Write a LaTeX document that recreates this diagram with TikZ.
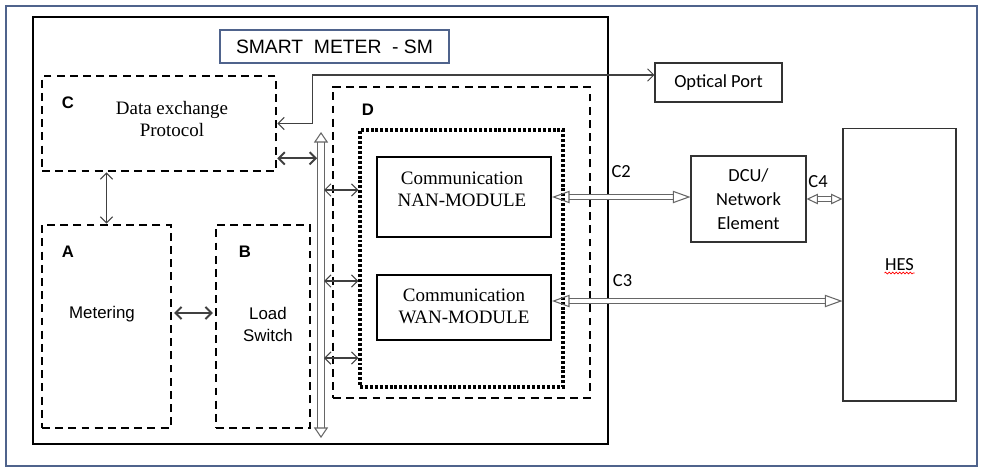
\documentclass[tikz,border=0pt]{standalone}
\usepackage{fontspec}
\setmainfont{Liberation Serif}
\setsansfont{Liberation Sans}
\newfontfamily\carlito{Carlito}
\usetikzlibrary{arrows.meta,positioning,decorations.pathmorphing}
\definecolor{framecol}{RGB}{79,99,140}

\begin{document}
\begin{tikzpicture}[
        x=0.02cm, y=-0.02cm,
        % box styles
        base/.style={rectangle, draw=black, inner sep=0pt, align=center},
        meterbox/.style={base, line width=1.2pt},
        titlebox/.style={base, draw=framecol, line width=0.6pt, font=\sffamily\fontsize{11}{13}\selectfont},
        dashbox/.style={base, line width=1.5pt, dash pattern=on 4.5pt off 3pt},
        dotbox/.style={base, line width=1.9pt, dash pattern=on 1.7pt off 1.1pt},
        modbox/.style={base, line width=1.1pt},
        thinbox/.style={base, draw=black!80, line width=0.6pt, font=\carlito\fontsize{10.5}{13.6}\selectfont},
        % text styles
        tag/.style={font=\sffamily\bfseries\fontsize{9.5}{11}\selectfont, inner sep=0pt},
        sanstxt/.style={font=\sffamily\fontsize{9.6}{12}\selectfont, align=center, inner sep=0pt},
        seriftxt/.style={font=\fontsize{10.8}{12.6}\selectfont, align=center, inner sep=0pt},
        lbl/.style={font=\carlito\fontsize{10.5}{12}\selectfont, inner sep=0pt},
        % connector styles
        thinarrow/.style={{Straight Barb[length=3.5pt,width=7pt]}-{Straight Barb[length=3.5pt,width=7pt]}, draw=black!75, line width=0.6pt},
        thickarrow/.style={thinarrow, line width=1.1pt},
        hollow/.style={{Triangle[open, length=10pt, width=7pt, line width=0.6pt]}-{Triangle[open, length=10pt, width=7pt, line width=0.6pt]}, draw=black!60, double=white, double distance=2pt, line width=0.6pt},
        shorthollow/.style={hollow, {Triangle[open, length=6.5pt, width=6pt, line width=0.6pt]}-{Triangle[open, length=6.5pt, width=6pt, line width=0.6pt]}},
        bus/.style={{Triangle[open, length=6pt, width=8pt, line width=0.6pt]}-{Triangle[open, length=6pt, width=8pt, line width=0.6pt]}, draw=black!60, double=white, double distance=3.4pt, line width=0.6pt}
    ]

    \useasboundingbox (0,0) rectangle (983,470);

    % outer frame
    \draw[framecol, line width=1.2pt] (6,6) rectangle (977,466);

    % smart meter and its blocks
    \node[meterbox, minimum width=11.5cm, minimum height=8.54cm] (meter) at (320.5,230.5) {};
    \node[titlebox, minimum width=4.58cm, minimum height=0.66cm] (title) at (334.5,46.5) {SMART\hspace{0.55em}METER\hspace{0.55em}- SM};

    \node[dashbox, minimum width=4.68cm, minimum height=1.9cm] (cbox) at (159,123.5) {};
    \node[dashbox, minimum width=2.58cm, minimum height=4.06cm] (abox) at (106.5,326.5) {};
    \node[dashbox, minimum width=1.88cm, minimum height=4.06cm] (bbox) at (263,326.5) {};
    \node[dashbox, minimum width=5.14cm, minimum height=6.22cm] (dbox) at (461.5,242.5) {};
    \node[dotbox, minimum width=4.06cm, minimum height=5.14cm] (comms) at (461.5,258.5) {};
    \node[modbox, minimum width=3.48cm, minimum height=1.6cm] (nan) at (464,197) {};
    \node[modbox, minimum width=3.48cm, minimum height=1.3cm] (wan) at (464,307.5) {};

    % block letters and texts
    \node[tag] (ctag) at (68,103) {C};
    \node[tag] (atag) at (68,252) {A};
    \node[tag] (btag) at (245,252) {B};
    \node[tag] (dtag) at (368,110) {D};
    \node[seriftxt] (ctxt) at (172,119) {Data exchange\\Protocol};
    \node[sanstxt] (atxt) at (102,314) {Metering};
    \node[sanstxt] (btxt) at (268,324.5) {Load\\Switch};
    \node[seriftxt] (nantxt) at (462,189) {Communication\\NAN-MODULE};
    \node[seriftxt] (wantxt) at (464,306) {Communication\\WAN-MODULE};

    % outside elements
    \node[thinbox, minimum width=2.54cm, minimum height=0.78cm] (optical) at (718.5,82.5) {Optical Port};
    \node[thinbox, minimum width=2.3cm, minimum height=1.72cm] (dcu) at (748.5,199) {DCU/\\Network\\Element};
    \node[thinbox, minimum width=2.26cm, minimum height=5.46cm] (hes) at (899.5,264.5) {HES};
    \draw[red, line width=0.4pt, decorate, decoration={snake, amplitude=0.5pt, segment length=2pt}]
        ([xshift=-0.3cm, yshift=-0.17cm]hes.center) -- ([xshift=0.3cm, yshift=-0.17cm]hes.center);

    % internal bus
    \coordinate (bustop) at (321,132);
    \coordinate (busbot) at (321,438);
    \draw[bus] (bustop) -- (busbot);

    \coordinate (tap1) at (324,190);
    \coordinate (tap2) at (324,281);
    \coordinate (tap3) at (324,358);
    \draw[thinarrow] (tap1) -- (tap1 -| comms.west);
    \draw[thinarrow] (tap2) -- (tap2 -| comms.west);
    \draw[thinarrow] (tap3) -- (tap3 -| comms.west);

    % links between blocks
    \draw[thinarrow] (abox.north |- cbox.south) -- (abox.north);
    \draw[thickarrow, shorten <=1pt, shorten >=1pt] ([yshift=0.27cm]abox.east) -- ([yshift=0.27cm]bbox.west);
    \coordinate (cport) at ([yshift=0.28cm]cbox.south east);
    \draw[thickarrow, shorten >=2.2pt] (cport) -- (cport -| bustop);
    \draw[thinarrow] (cbox.east) -- ++(0.7cm,0) |- ([yshift=0.15cm]optical.west);

    % communication channels
    \draw[hollow] (nan.east) -- (nan.east -| dcu.west) node[midway, yshift=0.5cm, lbl] (c2lbl) {C2};
    \coordinate (wanport) at ([yshift=0.13cm]wan.east);
    \draw[hollow] (wanport) -- (wanport -| hes.west) node[pos=0.243, yshift=0.4cm, lbl] (c3lbl) {C3};
    \draw[shorthollow] (dcu.east) -- (dcu.east -| hes.west) node[midway, yshift=0.34cm, xshift=-0.13cm, lbl] (c4lbl) {C4};

\end{tikzpicture}
\end{document}
